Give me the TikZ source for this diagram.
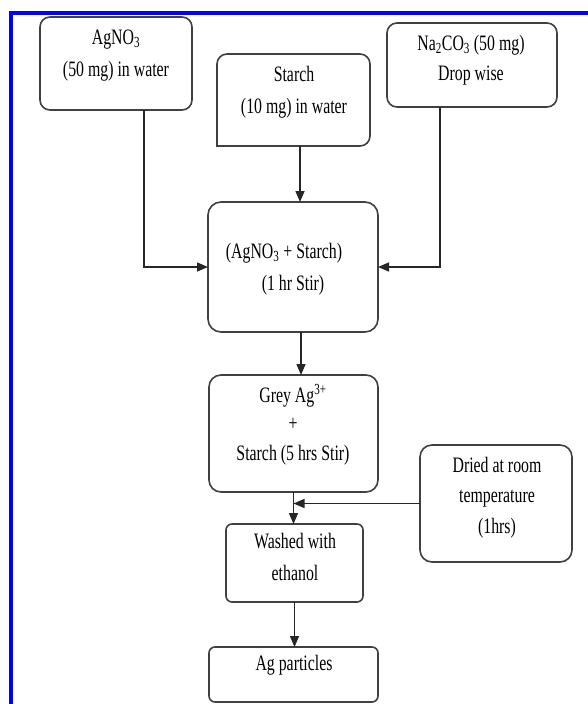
\documentclass[tikz,border=0pt]{standalone}
\usepackage{fontspec}
\setmainfont[FakeStretch=0.72]{Liberation Serif}
\usetikzlibrary{arrows.meta,calc}
\tikzset{
  box/.style={draw=black!75, line width=1.6pt, rounded corners=10pt, inner sep=0pt, outer sep=0pt, anchor=north west},
  txt/.style={anchor=base, inner sep=0pt, font=\fontsize{22}{30}\selectfont},
  conn/.style={draw=black!85, line width=1.5pt},
  arr/.style={conn, -{Triangle[length=11pt,width=9pt]}},
}
\begin{document}
\begin{tikzpicture}[x=1pt,y=-1pt]
\useasboundingbox (0,0) rectangle (588,704);
\fill[white] (0,0) rectangle (588,704);
\draw[blue, line width=4pt] (11,704) -- (11,13) -- (588,13);

% boxes
\node[box, minimum width=152pt, minimum height=93pt] (agno) at (40,17) {};
\node[box, draw=none, minimum width=153pt, minimum height=92pt] (starch) at (217,54) {};
\draw[draw=black!75, line width=1.6pt, rounded corners=10pt]
  (starch.south west) -- (starch.north west) -- (starch.north east) -- (starch.south east) [sharp corners] -- cycle;
\node[box, minimum width=170pt, minimum height=84pt] (naco) at (387,23) {};
\node[box, rounded corners=13pt, minimum width=170pt, minimum height=130pt] (mix) at (208,202) {};
\node[box, rounded corners=12pt, minimum width=169pt, minimum height=117pt] (grey) at (209,375) {};
\node[box, rounded corners=12pt, minimum width=152pt, minimum height=117pt] (dried) at (420,445) {};
\node[box, rounded corners=6pt, minimum width=137pt, minimum height=78pt] (washed) at (226,524) {};
\node[box, rounded corners=6pt, minimum width=169pt, minimum height=55pt] (ag) at (209,647) {};

% texts
\node[txt] (t1a) at (116,44) {AgNO\textsubscript{3}};
\node[txt] (t1b) at (116,76) {(50 mg) in water};
\node[txt] (t2a) at (294,81) {Starch};
\node[txt] (t2b) at (294,113) {(10 mg) in water};
\node[txt] (t3a) at (471,50) {Na\textsubscript{2}CO\textsubscript{3} (50 mg)};
\node[txt] (t3b) at (471,80) {Drop wise};
\node[txt] (t4a) at (284,258) {(AgNO\textsubscript{3} + Starch)};
\node[txt] (t4b) at (293,290) {(1 hr Stir)};
\node[txt] (t5a) at (293,402) {Grey Ag\textsuperscript{3+}};
\node[txt] (t5b) at (293,430) {+};
\node[txt] (t5c) at (293,460) {Starch (5 hrs Stir)};
\node[txt] (t6a) at (497,472) {Dried at room};
\node[txt] (t6b) at (497,502) {temperature};
\node[txt] (t6c) at (497,533) {(1hrs)};
\node[txt] (t7a) at (295,548) {Washed with};
\node[txt] (t7b) at (295,580) {ethanol};
\node[txt] (t8) at (294,670) {Ag particles};

% connectors
\draw[arr] ([xshift=28pt]agno.south) |- (mix.west);
\draw[arr] ([xshift=-32pt]naco.south) |- (mix.east);
\draw[arr] ([xshift=6.5pt]starch.south) -- ([xshift=6.5pt]starch.south |- mix.north);
\draw[arr] ([xshift=8pt]mix.south) -- ([xshift=8pt]mix.south |- grey.north);
\draw[arr] (grey.south) -- (grey.south |- washed.north);
\draw[arr] (dried.west) -- (dried.west -| grey.south);
\draw[arr] (washed.south) -- (washed.south |- ag.north);
\end{tikzpicture}
\end{document}
